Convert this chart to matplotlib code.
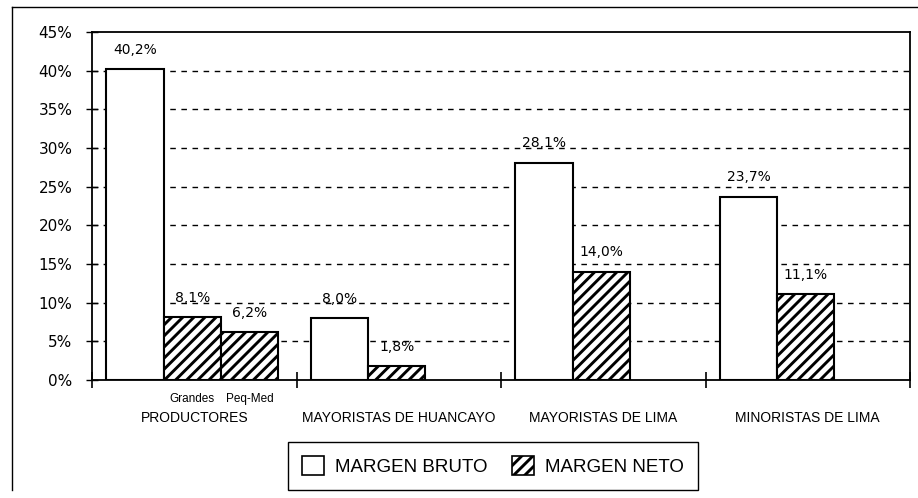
import numpy as np
import matplotlib.pyplot as plt
from matplotlib.patches import Patch
from matplotlib.lines import Line2D

# -------------------------------------------------
# DATA
# -------------------------------------------------
groups = ["PRODUCTORES", "MAYORISTAS DE HUANCAYO", "MAYORISTAS DE LIMA", "MINORISTAS DE LIMA"]
margen_bruto = [40.2, 8.0, 28.1, 23.7]
margen_neto = [8.1, 1.8, 14.0, 11.1]
# productores has an extra neto bar for small/medium producers
neto_peq_med = 6.2
sub_labels = ["Grandes", "Peq-Med"]
y_ticks = [0, 5, 10, 15, 20, 25, 30, 35, 40, 45]

# -------------------------------------------------
# STYLE
# -------------------------------------------------
plt.rcParams.update({
    "font.family": "DejaVu Sans",
    "hatch.linewidth": 2.1,
    "hatch.color": "black",
})

fig = plt.figure(figsize=(9.18, 4.98), dpi=100)
ax = fig.add_axes([92 / 918, 1 - 380 / 498, 818 / 918, 348 / 498])

w = 0.28
x = np.arange(len(groups))
x_bruto = x + 0.07 + w / 2
x_neto = x_bruto + w

ax.bar(x_bruto, margen_bruto, width=w, color="white", edgecolor="black",
       linewidth=1.5, zorder=3)
ax.bar(x_neto, margen_neto, width=w, color="white", edgecolor="black",
       linewidth=1.5, hatch="///", zorder=3)
ax.bar(x_neto[0] + w, neto_peq_med, width=w, color="white", edgecolor="black",
       linewidth=1.5, hatch="///", zorder=3)


def pct(v):
    return f"{v:.1f}%".replace(".", ",")


for xi, v in zip(x_bruto, margen_bruto):
    ax.annotate(pct(v), (xi, v), xytext=(0, 9), textcoords="offset points",
                ha="center", va="bottom", fontsize=10)
for xi, v in zip(x_neto, margen_neto):
    ax.annotate(pct(v), (xi, v), xytext=(0, 9), textcoords="offset points",
                ha="center", va="bottom", fontsize=10)
ax.annotate(pct(neto_peq_med), (x_neto[0] + w, neto_peq_med), xytext=(0, 9),
            textcoords="offset points", ha="center", va="bottom", fontsize=10)

# axes
ax.set_xlim(0, len(groups))
ax.set_ylim(0, 45)
ax.set_yticks(y_ticks)
ax.set_yticklabels([f"{t}%" for t in y_ticks], fontsize=11)
ax.tick_params(axis="y", direction="inout", length=8, width=1, pad=10)

ax.set_xticks(np.arange(len(groups) + 1))
ax.set_xticklabels([])
ax.tick_params(axis="x", direction="inout", length=12, width=1.2)
ax.set_xticks(x + 0.5, minor=True)
ax.set_xticklabels(groups, minor=True, fontsize=10, family="Liberation Sans")
ax.tick_params(axis="x", which="minor", length=0, pad=22)

# sub labels under productores
trans = ax.get_xaxis_transform()
for xs, lab in zip([x_neto[0], x_neto[0] + w], sub_labels):
    ax.text(xs, -0.055, lab, transform=trans, ha="center", va="center",
            fontsize=8.5, family="Liberation Sans")

# gridlines
for t in y_ticks[1:-1]:
    ax.axhline(t, color="black", linestyle=(0, (4, 4)), linewidth=1, zorder=1)

for s in ax.spines.values():
    s.set_linewidth(1.3)

# legend
handles = [Patch(facecolor="white", edgecolor="black", linewidth=1.2, label="MARGEN BRUTO"),
           Patch(facecolor="white", edgecolor="black", linewidth=1.2, hatch="///",
                 label="MARGEN NETO")]
leg = fig.legend(handles=handles, loc="center", bbox_to_anchor=(493 / 918, 1 - 466 / 498),
                 ncol=2, fancybox=False, edgecolor="black", framealpha=1,
                 prop={"family": "Liberation Sans", "size": 13.5},
                 handlelength=1.15, handleheight=1.15, columnspacing=1.3,
                 handletextpad=0.6, borderpad=0.75, borderaxespad=0)
leg.get_frame().set_linewidth(1.0)

# outer frame (scanned page border)
fig.add_artist(Line2D([12 / 918, 1], [1 - 7 / 498, 1 - 7 / 498], color="black", linewidth=1))
fig.add_artist(Line2D([12 / 918, 12 / 918], [1 - 7 / 498, 1 - 490 / 498], color="black", linewidth=1))

fig.savefig("out.png", dpi=100)
